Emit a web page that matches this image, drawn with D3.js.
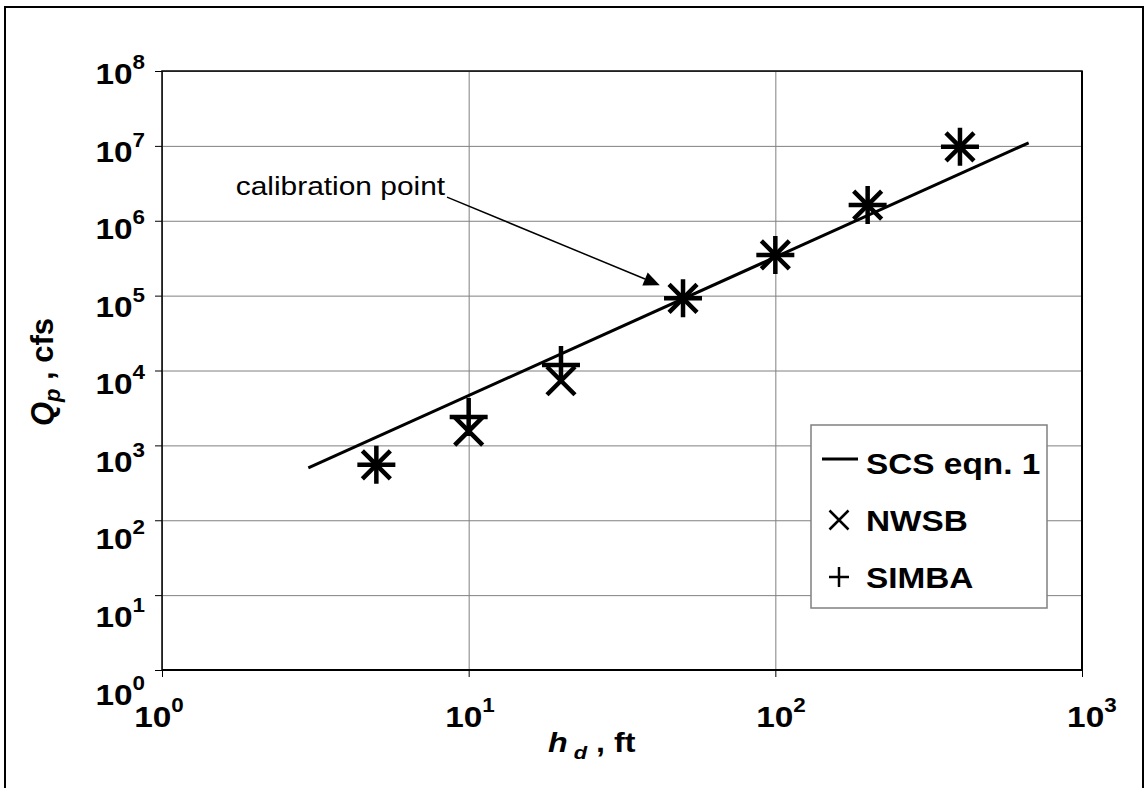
<!DOCTYPE html>
<html>
<head>
<meta charset="utf-8">
<script src="https://cdn.jsdelivr.net/npm/d3@7"></script>
<style>
  body { margin: 0; background: #fff; }
  text { font-family: "Liberation Sans", Arial, sans-serif; fill: #000; }
</style>
</head>
<body>
<script>
// Peak discharge vs. breach depth: SCS equation and two models
const depthFt   = [5, 10, 20, 50, 100, 200, 400];
const nwsbQ     = [550, 1550, 7300, 92000, 350000, 1.62e6, 9.7e6];
const simbaQ    = [550, 2400, 11800, 92000, 350000, 1.62e6, 9.7e6];
const scsDepth  = [3, 670];
const scsQ      = [500, 1.1e7];
const xTickExps = [0, 1, 2, 3];
const yTickExps = [0, 1, 2, 3, 4, 5, 6, 7, 8];
const legendLabels = ["SCS eqn. 1", "NWSB", "SIMBA"];
// annotation: label anchor and arrow ends in data units
const calibLabel = { text: "calibration point", h: 1.74, q: 2.2e6 };
const calibArrow = { h0: 8.5, q0: 2.07e6, h1: 42, q1: 1.38e5 };

const W = 1148, H = 788;
const plotL = 162, plotR = 1082, plotT = 71, plotB = 670;
const stretch = 1.15;

const svg = d3.select("body").append("svg").attr("width", W).attr("height", H);

// outer frame
svg.append("rect").attr("x", 5).attr("y", 7).attr("width", 1138).attr("height", 800)
  .attr("fill", "#fff").attr("stroke", "#000").attr("stroke-width", 2);

const x = d3.scaleLog().domain([1, 1000]).range([plotL, plotR]);
const y = d3.scaleLog().domain([1, 1e8]).range([plotB, plotT]);

// gridlines
const gy = svg.append("g").attr("transform", `translate(${plotL},0)`)
  .call(d3.axisLeft(y).tickValues(yTickExps.map(e => Math.pow(10, e))).tickSize(-(plotR - plotL)).tickFormat(""));
gy.select(".domain").remove();
gy.selectAll("line").attr("stroke", "#808080").attr("stroke-width", 1);
const gx = svg.append("g").attr("transform", `translate(0,${plotB})`)
  .call(d3.axisBottom(x).tickValues(xTickExps.map(e => Math.pow(10, e))).tickSize(-(plotB - plotT)).tickFormat(""));
gx.select(".domain").remove();
gx.selectAll("line").attr("stroke", "#808080").attr("stroke-width", 1);

// tick marks
const ty = svg.append("g").attr("transform", `translate(${plotL},0)`)
  .call(d3.axisLeft(y).tickValues(yTickExps.map(e => Math.pow(10, e))).tickSize(7).tickFormat(""));
ty.select(".domain").remove();
ty.selectAll("line").attr("stroke", "#000").attr("stroke-width", 1);
const tx = svg.append("g").attr("transform", `translate(0,${plotB})`)
  .call(d3.axisBottom(x).tickValues(xTickExps.map(e => Math.pow(10, e))).tickSize(7).tickFormat(""));
tx.select(".domain").remove();
tx.selectAll("line").attr("stroke", "#000").attr("stroke-width", 1);

// plot border
svg.append("rect").attr("x", plotL).attr("y", plotT).attr("width", plotR - plotL).attr("height", plotB - plotT)
  .attr("fill", "none").attr("stroke", "#000").attr("stroke-width", 1.5);
svg.append("line").attr("x1", plotL).attr("x2", plotR).attr("y1", plotB).attr("y2", plotB)
  .attr("stroke", "#000").attr("stroke-width", 2);
svg.append("line").attr("x1", plotR).attr("x2", plotR).attr("y1", plotT).attr("y2", plotB)
  .attr("stroke", "#000").attr("stroke-width", 2);

// power tick label "10^k"
function powLabel(g, k, px, py, anchor) {
  const t = g.append("text")
    .attr("transform", `translate(${px},${py}) scale(${stretch},1)`)
    .attr("text-anchor", anchor)
    .attr("font-weight", "bold").attr("font-size", 29);
  t.append("tspan").text("10");
  t.append("tspan").attr("font-size", 19.5).attr("dy", -15).text(k);
}
const labels = svg.append("g");
yTickExps.forEach(k => powLabel(labels, k, 145, y(Math.pow(10, k)) + 13 + (8 - k) * 2.7, "end"));
xTickExps.forEach(k => powLabel(labels, k, x(Math.pow(10, k)) - 3 + 4.3 * k, 727, "middle"));

// axis titles
const xt = svg.append("text")
  .attr("transform", `translate(548,752) scale(${stretch},1)`)
  .attr("font-weight", "bold").attr("font-size", 28);
xt.append("tspan").attr("font-style", "italic").text("h");
xt.append("tspan").attr("font-style", "italic").attr("font-size", 19).attr("dy", 7).text(" d");
xt.append("tspan").attr("dy", -7).text(" , ft");

const yt = svg.append("text")
  .attr("transform", `translate(53,372) rotate(-90)`)
  .attr("text-anchor", "middle")
  .attr("font-weight", "bold").attr("font-size", 31);
yt.append("tspan").attr("font-style", "italic").text("Q");
yt.append("tspan").attr("font-style", "italic").attr("font-size", 22).attr("dy", 7).text("p");
yt.append("tspan").attr("dy", -7).text(" , cfs");

// SCS equation line
const scsPts = scsDepth.map((h, i) => [h, scsQ[i]]);
svg.append("path")
  .attr("d", d3.line().x(d => x(d[0])).y(d => y(d[1]))(scsPts))
  .attr("fill", "none").attr("stroke", "#000").attr("stroke-width", 3);

// markers
const crossPath = r => `M${-r},${-r}L${r},${r}M${-r},${r}L${r},${-r}`;
const plusPath = r => `M${-r},0L${r},0M0,${-r}L0,${r}`;
const marks = svg.append("g").attr("stroke", "#000").attr("stroke-width", 4.5).attr("fill", "none");
depthFt.forEach((h, i) => {
  marks.append("path").attr("transform", `translate(${x(h)},${y(nwsbQ[i])})`).attr("d", crossPath(14));
  marks.append("path").attr("transform", `translate(${x(h)},${y(simbaQ[i])})`).attr("d", plusPath(19));
});

// calibration annotation
svg.append("text")
  .attr("transform", `translate(${x(calibLabel.h)},${y(calibLabel.q)}) scale(${stretch},1)`)
  .attr("font-size", 26).text(calibLabel.text);
const ax0 = x(calibArrow.h0), ay0 = y(calibArrow.q0), ax1 = x(calibArrow.h1), ay1 = y(calibArrow.q1);
const ang = Math.atan2(ay1 - ay0, ax1 - ax0);
const hl = 16, hw = 7;
const bx = ax1 - hl * Math.cos(ang), by = ay1 - hl * Math.sin(ang);
svg.append("line").attr("x1", ax0).attr("y1", ay0).attr("x2", bx).attr("y2", by)
  .attr("stroke", "#000").attr("stroke-width", 1.5);
svg.append("path")
  .attr("d", `M${ax1},${ay1}L${bx - hw * Math.sin(ang)},${by + hw * Math.cos(ang)}L${bx + hw * Math.sin(ang)},${by - hw * Math.cos(ang)}Z`)
  .attr("fill", "#000");

// legend
const lg = svg.append("g");
lg.append("rect").attr("x", 811).attr("y", 425).attr("width", 236).attr("height", 183)
  .attr("fill", "#fff").attr("stroke", "#808080").attr("stroke-width", 1.5);
const rowY = d3.scalePoint().domain(legendLabels).range([463, 577]);
legendLabels.forEach((lab, i) => {
  const cy = rowY(lab);
  lg.append("text")
    .attr("transform", `translate(866,${cy + 10.5}) scale(${stretch},1)`)
    .attr("font-weight", "bold").attr("font-size", 29).text(lab);
  const sym = lg.append("g").attr("transform", `translate(839,${cy})`).attr("stroke", "#000").attr("fill", "none");
  if (i === 0) sym.append("line").attr("x1", -17).attr("x2", 19).attr("y1", -4).attr("y2", -4).attr("stroke-width", 3);
  else if (i === 1) sym.append("path").attr("d", crossPath(9.5)).attr("stroke-width", 2.5);
  else sym.append("path").attr("d", plusPath(10)).attr("stroke-width", 2.5);
});
</script>
</body>
</html>
